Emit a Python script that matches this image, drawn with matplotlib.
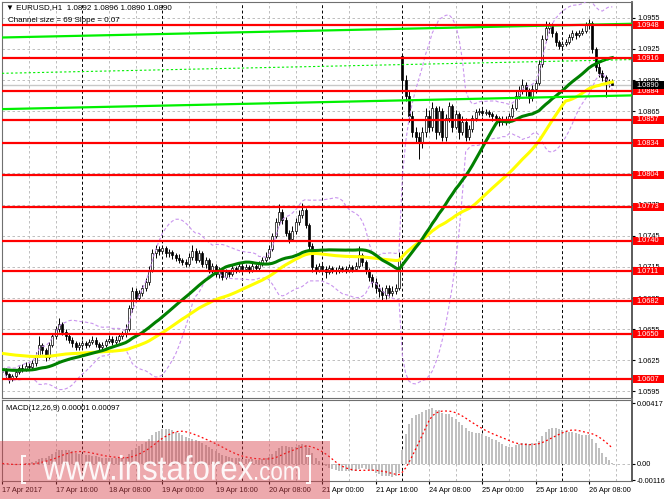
import matplotlib
matplotlib.use('Agg')
import matplotlib.pyplot as plt
import matplotlib.transforms as mtransforms
from matplotlib.patches import Rectangle, PathPatch
from matplotlib.textpath import TextPath
from matplotlib.font_manager import FontProperties
import numpy as np
import pandas as pd

plt.rcParams['font.family'] = ['Liberation Sans', 'DejaVu Sans']

# EURUSD H1, bar 0 = 17 Apr 2017 00:00, last bar = 26 Apr 15:00
# prices in pips above 1.0000
closes_pips = [
    616, 612, 608, 610, 614, 618, 617, 620, 619, 622,
    630, 640, 635, 628, 640, 648, 655, 660, 652, 648,
    645, 642, 638, 640, 642, 640, 643, 645, 641, 638,
    640, 644, 646, 643, 645, 648, 650, 655, 675, 692,
    685, 690, 695, 700, 712, 728, 732, 730, 733, 728,
    729, 726, 724, 722, 720, 718, 725, 730, 722, 728,
    718, 722, 712, 716, 708, 712, 705, 710, 708, 714,
    712, 716, 713, 715, 712, 716, 714, 718, 722, 725,
    732, 745, 758, 768, 760, 748, 742, 750, 758, 765,
    770, 755, 735, 715, 712, 716, 713, 710, 714, 712,
    711, 714, 713, 712, 715, 713, 716, 726, 720, 712,
    705, 700, 695, 692, 688, 695, 690, 692, 695, 722,
    895, 880, 860, 845, 840, 835, 845, 860, 850, 868,
    845, 865, 840, 858, 870, 850, 862, 845, 855, 840,
    848, 858, 864, 865, 863, 864, 862, 860, 858, 855,
    857, 856, 860, 868, 880, 885, 890, 884, 878, 886,
    892, 910, 935, 945, 948, 940, 932, 928, 930, 932,
    936, 940, 938, 940, 942, 948, 950, 925, 908, 902,
    898, 893, 892, 890,
]
highs_pips = [
    619, 618, 613, 612, 616, 620, 621, 623, 622, 625,
    633, 648, 642, 637, 643, 651, 658, 666, 662, 655,
    650, 647, 644, 643, 645, 644, 646, 648, 647, 643,
    643, 646, 649, 648, 648, 651, 653, 660, 678, 696,
    695, 693, 698, 704, 716, 732, 736, 735, 736, 735,
    732, 731, 728, 727, 724, 723, 728, 736, 733, 731,
    730, 725, 724, 719, 718, 715, 714, 713, 712, 717,
    716, 719, 718, 718, 717, 719, 718, 721, 725, 729,
    736, 748, 762, 776, 771, 763, 751, 754, 762, 770,
    777, 772, 757, 738, 718, 719, 718, 716, 717, 716,
    715, 717, 716, 716, 718, 717, 720, 735, 728, 722,
    714, 708, 704, 699, 696, 698, 698, 697, 699, 729,
    919, 900, 884, 865, 850, 845, 850, 868, 866, 874,
    870, 870, 868, 862, 874, 872, 866, 864, 860, 858,
    852, 861, 867, 868, 867, 867, 866, 864, 862, 860,
    860, 860, 863, 872, 884, 889, 896, 893, 887, 890,
    896, 914, 938, 952, 951, 950, 942, 934, 933, 935,
    939, 943, 942, 943, 945, 951, 954, 952, 927, 911,
    905, 900, 896, 896,
]
lows_pips = [
    611, 608, 603, 605, 608, 612, 614, 615, 616, 617,
    620, 628, 631, 624, 626, 638, 646, 652, 649, 645,
    642, 638, 635, 635, 638, 637, 638, 641, 638, 635,
    636, 638, 642, 640, 641, 643, 646, 647, 653, 672,
    681, 682, 687, 692, 698, 710, 724, 726, 727, 725,
    725, 723, 721, 719, 717, 715, 716, 722, 719, 720,
    715, 714, 709, 709, 705, 704, 702, 703, 705, 706,
    709, 710, 710, 711, 709, 710, 711, 712, 716, 720,
    723, 730, 743, 755, 756, 745, 738, 740, 747, 755,
    762, 752, 730, 710, 708, 710, 710, 704, 708, 709,
    708, 709, 710, 709, 710, 710, 711, 714, 716, 708,
    701, 696, 690, 686, 683, 684, 686, 687, 689, 693,
    885, 875, 855, 840, 835, 819, 830, 840, 845, 846,
    838, 842, 836, 836, 855, 845, 848, 838, 842, 836,
    837, 845, 856, 861, 860, 861, 859, 856, 853, 851,
    852, 852, 854, 858, 866, 877, 882, 880, 873, 875,
    883, 890, 908, 932, 940, 936, 928, 925, 925, 928,
    930, 934, 935, 936, 938, 940, 944, 921, 904, 898,
    894, 879, 888, 890,
]
first_open_pips = 614
gap_bar = 120          # 24 Apr 00:00, weekend gap
gap_open_pips = 918

levels = [1.0948, 1.0916, 1.0884, 1.0857, 1.0834, 1.0804, 1.0773,
          1.0740, 1.0711, 1.0682, 1.0650, 1.0607]
bid = 1.0890
price_ticks = [1.0595, 1.0625, 1.0655, 1.0685, 1.0715, 1.0745, 1.0775,
               1.0805, 1.0835, 1.0865, 1.0895, 1.0925, 1.0955]
channel_low_start = 1.0867
channel_slope_pips = 0.07
channel_size_pips = 69
green_period, yellow_period, bands_period = 30, 50, 20
green_seed, yellow_seed = 1.0616, 1.0632
time_labels = ['17 Apr 2017', '17 Apr 16:00', '18 Apr 08:00', '19 Apr 00:00',
               '19 Apr 16:00', '20 Apr 08:00', '21 Apr 00:00', '21 Apr 16:00',
               '24 Apr 08:00', '25 Apr 00:00', '25 Apr 16:00', '26 Apr 08:00']
macd_marks = [0.00417, 0.0, -0.00116]

close = np.array(closes_pips) / 10000 + 1.0
high = np.array(highs_pips) / 10000 + 1.0
low = np.array(lows_pips) / 10000 + 1.0
opn = np.r_[first_open_pips / 10000 + 1.0, close[:-1]]
opn[gap_bar] = gap_open_pips / 10000 + 1.0
n = len(close)
x = np.arange(n)


def sma(values, period, seed):
    padded = pd.Series(np.r_[np.full(period - 1, seed), values])
    return padded.rolling(period).mean().to_numpy()[period - 1:]


green_ma = sma(close, green_period, green_seed)
yellow_ma = sma(close, yellow_period, yellow_seed)
s = pd.Series(close)
mid = s.rolling(bands_period, min_periods=1).mean()
sd = s.rolling(bands_period, min_periods=1).std(ddof=0)
bb_up, bb_dn = mid + 2 * sd, mid - 2 * sd
macd = s.ewm(span=12, adjust=False).mean() - s.ewm(span=26, adjust=False).mean()
signal = macd.rolling(9, min_periods=1).mean()

W, H = 665, 499
fig = plt.figure(figsize=(W / 100, H / 100), dpi=100)
ax = fig.add_axes([2 / W, 1 - 398 / H, 630 / W, 396 / H])
mx = fig.add_axes([2 / W, 1 - 481 / H, 630 / W, 81 / H])
xlim = (-0.09, 188.9)
small = 5.3

for a in (ax, mx):
    a.set_xlim(*xlim)
    for sp in a.spines.values():
        sp.set_color('#707070')
        sp.set_linewidth(0.8)
    a.spines['right'].set_color('#404040')
    a.spines['right'].set_linewidth(1.2)
    for b in range(8, int(xlim[1]) + 1, 8):
        if b % 24 == 0:
            a.axvline(b, color='black', lw=0.7, ls=(0, (3, 2.5)), zorder=0.6)
        else:
            a.axvline(b, color='#B4B4B4', lw=0.6, ls=(0, (3, 3)), zorder=0.5)

ax.set_ylim(1.05887, 1.09702)
for p in price_ticks:
    ax.axhline(p, color='#B4B4B4', lw=0.6, ls=(0, (3, 3)), zorder=0.5)

# candles
up = close >= opn
ax.vlines(x, low, high, color='black', lw=0.7, zorder=2)
ax.bar(x[up], close[up] - opn[up], bottom=opn[up], width=0.62,
       facecolor='white', edgecolor='black', linewidth=0.5, zorder=2.1)
ax.bar(x[~up], close[~up] - opn[~up], bottom=opn[~up], width=0.62,
       facecolor='black', edgecolor='black', linewidth=0.5, zorder=2.1)

# indicators
ax.plot(x, bb_up, color='#C994EE', lw=0.8, ls=(0, (3, 2)), zorder=3)
ax.plot(x, bb_dn, color='#C994EE', lw=0.8, ls=(0, (3, 2)), zorder=3)
ax.plot(x, yellow_ma, color='#FFFF00', lw=2.2, zorder=3.1)
ax.plot(x, green_ma, color='#008000', lw=2.2, zorder=3.2)

# regression channel
cx = np.array(xlim)
c_low = channel_low_start + (cx - xlim[0]) * channel_slope_pips / 10000
c_up = c_low + channel_size_pips / 10000
c_mid = (c_low + c_up) / 2
ax.plot(cx, c_up, color='#00F000', lw=1.6, zorder=4)
ax.plot(cx, c_low, color='#00F000', lw=1.6, zorder=4)
ax.plot(cx, c_mid, color='#00F000', lw=0.8, ls=(0, (2, 2)), zorder=4)

ax.axhline(bid, color='#C8C8C8', lw=1.0, zorder=1.5)
for lv in levels:
    ax.axhline(lv, color='#FF0000', lw=1.6, zorder=5)

ax.yaxis.tick_right()
ax.set_yticks(price_ticks)
ax.set_yticklabels([f'{p:.4f}' for p in price_ticks])
ax.tick_params(axis='y', labelsize=small, length=2.5, pad=1.2, colors='black')
ax.set_xticks([])

# price tags on the right scale (fixed width boxes, 8 px high)
tr = mtransforms.blended_transform_factory(ax.transAxes, ax.transData)
px_x = 1 / 630
px_y = (1.09702 - 1.05887) / 396


def tag(value, colour, z):
    ax.add_patch(Rectangle((1 + 1 * px_x, value - 4 * px_y), 31 * px_x, 8 * px_y,
                           transform=tr, facecolor=colour, edgecolor='none',
                           clip_on=False, zorder=z))
    ax.text(1 + 4 * px_x, value, f'{value:.4f}', transform=tr, ha='left',
            va='center', fontsize=small, color='white', clip_on=False, zorder=z)


for lv in levels:
    tag(lv, '#FF0000', 10)
tag(bid, 'black', 11)

# MACD panel
mx.set_ylim(-0.001216, 0.004413)
mx.axhline(0, color='#B4B4B4', lw=0.6, ls=(0, (3, 3)), zorder=0.5)
mx.bar(x, macd, width=0.6, color='#C0C0C0', zorder=2)
mx.plot(x, signal, color='#FF0000', lw=0.9, ls=(0, (1.5, 2)), zorder=3)
mx.yaxis.tick_right()
mx.set_yticks(macd_marks)
mx.set_yticklabels(['0.00417', '0.00', '-0.00116'])
mx.tick_params(axis='y', labelsize=small, length=2.5, pad=1.2)
tick_bars = list(range(0, 16 * len(time_labels), 16))
mx.set_xticks(tick_bars)
mx.set_xticklabels(time_labels, ha='left', fontsize=small)
mx.tick_params(axis='x', length=2.5, pad=1.5)

fig.text(6 / W, 1 - 8 / H, '\u25bc EURUSD,H1  1.0892 1.0896 1.0890 1.0890',
         fontsize=5.8, va='center', ha='left')
fig.text(8 / W, 1 - 20 / H, 'Channel size = 69 Slope = 0.07',
         fontsize=5.8, va='center', ha='left')
fig.text(6 / W, 1 - 408 / H, 'MACD(12,26,9) 0.00001 0.00097',
         fontsize=5.6, va='center', ha='left')

# watermark
fig.add_artist(Rectangle((0, 0), 330 / W, 58 / H, transform=fig.transFigure,
                         facecolor='#D8404A', alpha=0.45, edgecolor='none', zorder=20))
fp = FontProperties(family='Liberation Sans')


def stamp(txt, x0, x1, ytop, ybot):
    # glyph outlines stretched into a pixel box (y measured from the top)
    tp = TextPath((0, 0), txt, size=1, prop=fp)
    ext = tp.get_extents()
    trans = (mtransforms.Affine2D()
             .translate(-ext.x0, -ext.y0)
             .scale((x1 - x0) / ext.width, (ybot - ytop) / ext.height)
             .translate(x0, H - ybot))
    fig.add_artist(PathPatch(tp, transform=trans, facecolor='white',
                             edgecolor='none', alpha=0.92, zorder=21))


stamp('www.instaforex', 43, 253, 455, 480)
stamp('.com', 255, 300, 466, 480)
stamp('[', 21, 26, 455, 484)
stamp(']', 306, 311, 455, 484)

fig.savefig('out.png', dpi=100)
